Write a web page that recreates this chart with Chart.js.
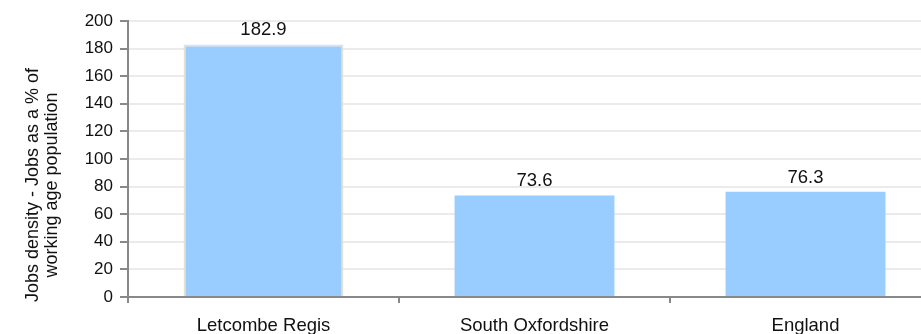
<!DOCTYPE html>
<html>
<head>
<meta charset="utf-8">
<script src="https://cdn.jsdelivr.net/npm/chart.js@4"></script>
<style>
  html, body { margin: 0; padding: 0; background: #fff; overflow: hidden; }
  #wrap { width: 941px; height: 334px; position: relative; }
</style>
</head>
<body>
<div id="wrap"><canvas id="jobs-chart"></canvas></div>
<script>
// ── data ──
const categories = ['Letcombe Regis', 'South Oxfordshire', 'England'];
const jobsDensity = [182.9, 73.6, 76.3];
const yTitle = ['Jobs density - Jobs as a % of', 'working age population'];
const yMin = 0, yMax = 200, yStep = 20;

const FONT = "'Liberation Sans', Arial, sans-serif";

// value labels above each bar
const valueLabels = {
  id: 'valueLabels',
  afterDatasetsDraw(chart) {
    const ctx = chart.ctx;
    const meta = chart.getDatasetMeta(0);
    ctx.save();
    ctx.font = '18.5px ' + FONT;
    ctx.fillStyle = '#111';
    ctx.textAlign = 'center';
    ctx.textBaseline = 'bottom';
    meta.data.forEach((bar, i) => {
      ctx.fillText(jobsDensity[i].toFixed(1), bar.x, bar.y - 5);
    });
    ctx.restore();
  }
};

// y axis title, two centred lines
const axisTitle = {
  id: 'axisTitle',
  afterDraw(chart) {
    const ctx = chart.ctx;
    ctx.save();
    ctx.translate(33, 185);
    ctx.rotate(-Math.PI / 2);
    ctx.font = '18px ' + FONT;
    ctx.fillStyle = '#111';
    ctx.textAlign = 'center';
    ctx.textBaseline = 'middle';
    yTitle.forEach((line, i) => ctx.fillText(line, 0, i * 19));
    ctx.restore();
  }
};

new Chart(document.getElementById('jobs-chart'), {
  type: 'bar',
  data: {
    labels: categories,
    datasets: [{
      data: jobsDensity,
      backgroundColor: '#99CCFF',
      borderColor: ['#e4e0d6', 'rgba(0,0,0,0)', 'rgba(0,0,0,0)'],
      borderWidth: [2, 0, 0],
      categoryPercentage: 1,
      barPercentage: 0.59
    }]
  },
  options: {
    responsive: true, maintainAspectRatio: false, animation: false,
    layout: { padding: { top: 21, left: 0, right: 0, bottom: 0 } },
    plugins: { legend: { display: false }, tooltip: { enabled: false } },
    scales: {
      x: {
        afterFit: s => { s.height = 37; },
        grid: { offset: true, drawOnChartArea: false, tickLength: 6, color: '#888', lineWidth: 2 },
        border: { color: '#888', width: 2 },
        ticks: { font: { size: 18.5, family: FONT }, color: '#111', padding: 12, maxRotation: 0 }
      },
      y: {
        min: yMin, max: yMax,
        afterFit: s => { s.width = 128; },
        grid: { color: '#ebebeb', lineWidth: 2, tickLength: 8, tickColor: '#888', tickWidth: 2 },
        border: { color: '#888', width: 2 },
        ticks: { stepSize: yStep, font: { size: 17, family: FONT }, color: '#111', padding: 7 }
      }
    }
  },
  plugins: [valueLabels, axisTitle]
});
</script>
</body>
</html>
